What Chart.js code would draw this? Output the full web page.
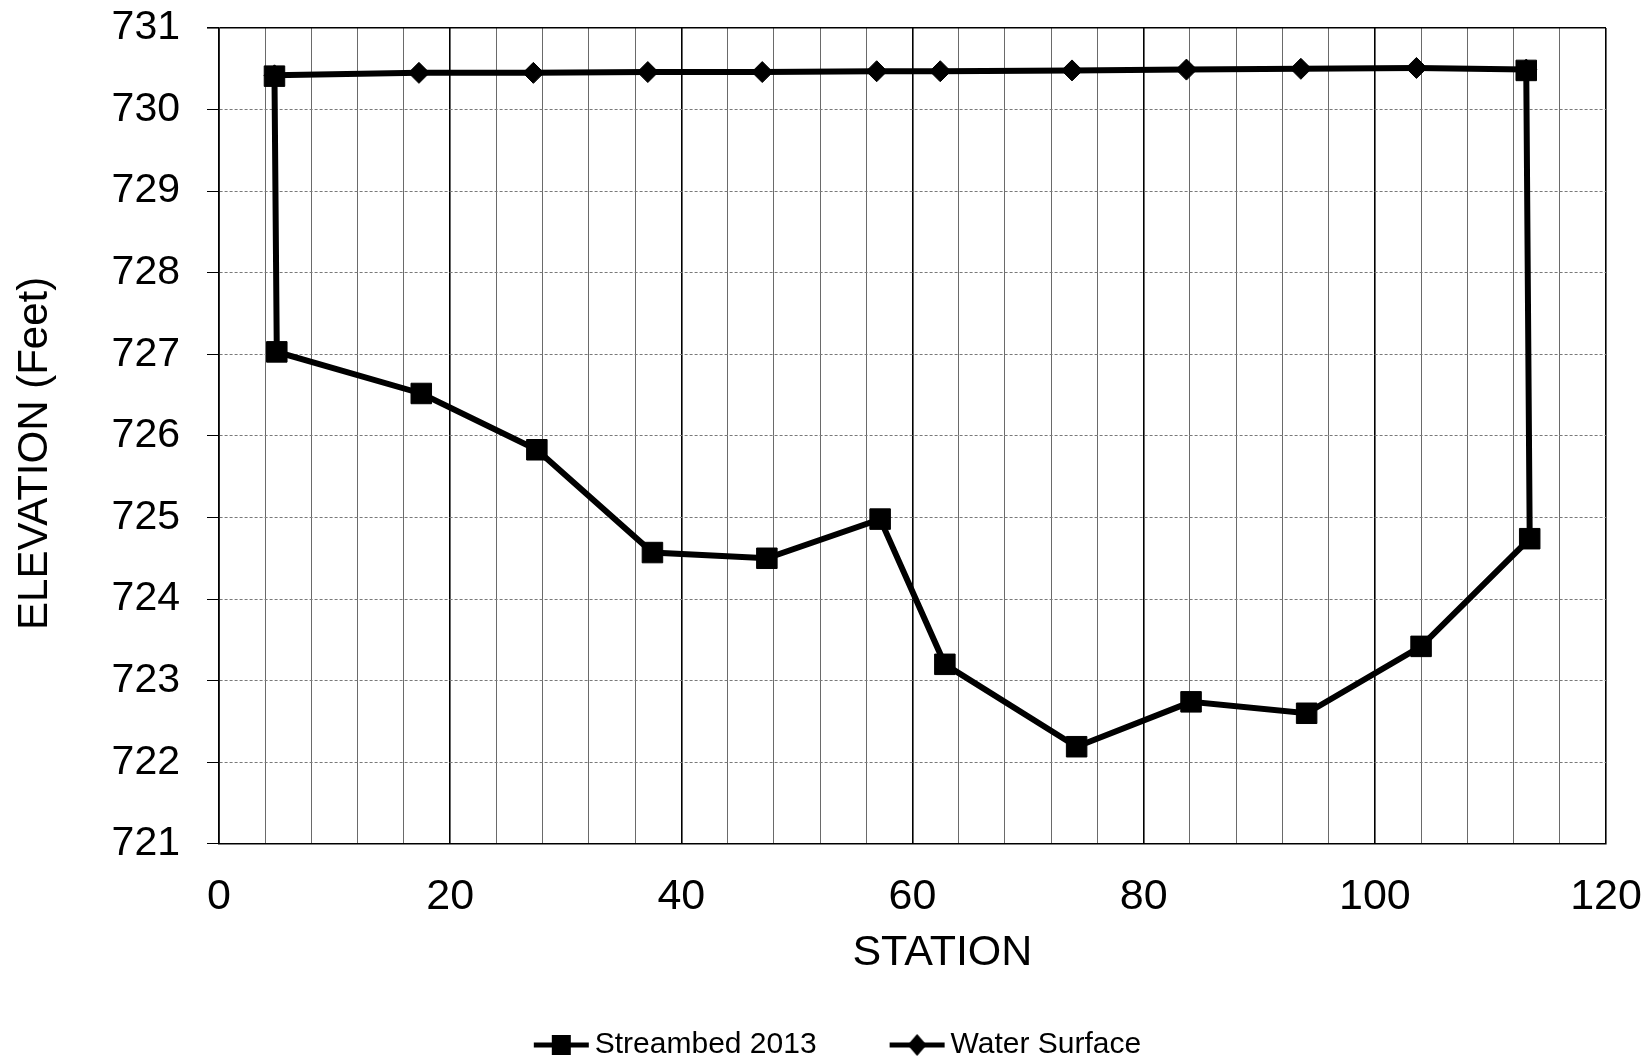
<!DOCTYPE html>
<html lang="en">
<head>
  <meta charset="UTF-8" />
  <title>Streambed Cross Section</title>
  <script src="https://cdn.jsdelivr.net/npm/chart.js"></script>
  <style>
    html, body { margin: 0; padding: 0; background: #fff; }
    #wrap { width: 1649px; height: 1059px; }
  </style>
</head>
<body>
  <div id="wrap"><canvas id="sectionChart" width="1649" height="1059"></canvas></div>

  <script>
    // Streambed 2013 survey (station, elevation in feet)
    const bedStation   = [4.8, 5.0, 17.5, 27.5, 37.5, 47.4, 57.2, 62.8, 74.2, 84.1, 94.1, 104.0, 113.4, 113.1];
    const bedElevation = [730.41, 727.03, 726.52, 725.83, 724.57, 724.50, 724.98, 723.20, 722.19, 722.74, 722.60, 723.42, 724.74, 730.48];

    // Water surface
    const waterStation   = [4.8, 17.3, 27.2, 37.1, 47.0, 56.9, 62.4, 73.8, 83.7, 93.6, 103.6, 113.1];
    const waterElevation = [730.42, 730.45, 730.45, 730.46, 730.46, 730.47, 730.47, 730.48, 730.49, 730.50, 730.51, 730.49];

    const stationLabels = [0, 20, 40, 60, 80, 100, 120];
    const elevationLabels = [721, 722, 723, 724, 725, 726, 727, 728, 729, 730, 731];

    const toPoints = (xs, ys) => xs.map((x, i) => ({ x: x, y: ys[i] }));

    // little line+marker glyphs for the legend (a bit wider than the box so
    // the line runs up close to the text)
    function legendMarker(kind) {
      const c = document.createElement("canvas");
      c.width = 68;
      c.height = 26;
      const g = c.getContext("2d");
      if (kind === "blank") return c;
      g.strokeStyle = "#000";
      g.fillStyle = "#000";
      g.lineWidth = 5;
      g.beginPath();
      g.moveTo(12, 13);
      g.lineTo(67, 13);
      g.stroke();
      if (kind === "square") {
        g.fillRect(30, 3, 19, 20);
      } else {
        g.beginPath();
        g.moveTo(39.5, 2);
        g.lineTo(49, 13);
        g.lineTo(39.5, 24);
        g.lineTo(30, 13);
        g.closePath();
        g.fill();
      }
      return c;
    }

    Chart.defaults.font.family = "'Liberation Sans', Arial, sans-serif";
    Chart.defaults.color = "#000";

    const ctx = document.getElementById("sectionChart").getContext("2d");
    new Chart(ctx, {
      type: "line",
      data: {
        datasets: [
          {
            label: "Streambed 2013",
            data: toPoints(bedStation, bedElevation),
            borderColor: "#000",
            backgroundColor: "#000",
            borderWidth: 6,
            pointStyle: "rect",
            pointRadius: 14.5,
            pointBorderWidth: 1,
            tension: 0
          },
          {
            label: "Water Surface",
            data: toPoints(waterStation, waterElevation),
            borderColor: "#000",
            backgroundColor: "#000",
            borderWidth: 6,
            pointStyle: "rectRot",
            pointRadius: 10.5,
            pointBorderWidth: 1,
            tension: 0
          }
        ]
      },
      options: {
        responsive: false,
        animation: false,
        devicePixelRatio: 1,
        layout: { padding: { top: 28, right: 43, left: 0, bottom: -11 } },
        plugins: {
          tooltip: { enabled: false },
          legend: {
            display: true,
            position: "bottom",
            onClick: null,
            labels: {
              usePointStyle: true,
              pointStyleWidth: 48,
              padding: 4,
              color: "#000",
              font: { size: 30 },
              generateLabels(chart) {
                const items = Chart.defaults.plugins.legend.labels.generateLabels(chart);
                items[0].pointStyle = legendMarker("square");
                items[1].pointStyle = legendMarker("diamond");
                const spacer = () => ({
                  text: "",
                  pointStyle: legendMarker("blank"),
                  fillStyle: "rgba(0,0,0,0)",
                  strokeStyle: "rgba(0,0,0,0)",
                  lineWidth: 0,
                  hidden: false
                });
                return [spacer(), items[0], spacer(), items[1]];
              }
            }
          }
        },
        scales: {
          x: {
            type: "linear",
            min: 0,
            max: 120,
            afterFit: scale => {
              scale.paddingLeft = 0;
              scale.paddingRight = 0;
            },
            title: {
              display: true,
              // leading spaces nudge the centred title a little to the right
              text: "     STATION",
              font: { size: 43 },
              padding: { top: -24, bottom: 47 }
            },
            ticks: {
              stepSize: 4,
              autoSkip: false,
              maxRotation: 0,
              padding: 28,
              font: { size: 43 },
              callback: v => (stationLabels.includes(v) ? v : "")
            },
            grid: {
              drawTicks: false,
              color: c => (c.tick && c.tick.value % 20 === 0 ? "#000" : "#6a6a6a"),
              lineWidth: c => (c.tick && c.tick.value % 20 === 0 ? 1.6 : 1)
            },
            border: { color: "#000", width: 1.6 }
          },
          y: {
            min: 721,
            max: 731,
            afterFit: scale => {
              scale.width = 219;
              scale.paddingTop = 0;
              scale.paddingBottom = 0;
            },
            title: {
              display: true,
              text: "ELEVATION (Feet)   ",
              font: { size: 42 },
              padding: { top: 10, bottom: 0 }
            },
            ticks: {
              stepSize: 1,
              padding: 27,
              font: { size: 41 },
              callback: v => (elevationLabels.includes(v) ? v : "")
            },
            grid: {
              tickLength: 12,
              tickColor: "#000",
              color: c => (c.tick && c.tick.value === 731 ? "#000" : "#7a7a7a"),
              lineWidth: c => (c.tick && c.tick.value === 731 ? 1.6 : 1)
            },
            border: {
              color: "#000",
              width: 1.6,
              dash: c => (c.tick && c.tick.value !== 731 && c.tick.value !== 721 ? [3, 2] : [])
            }
          }
        }
      }
    });
  </script>
</body>
</html>
